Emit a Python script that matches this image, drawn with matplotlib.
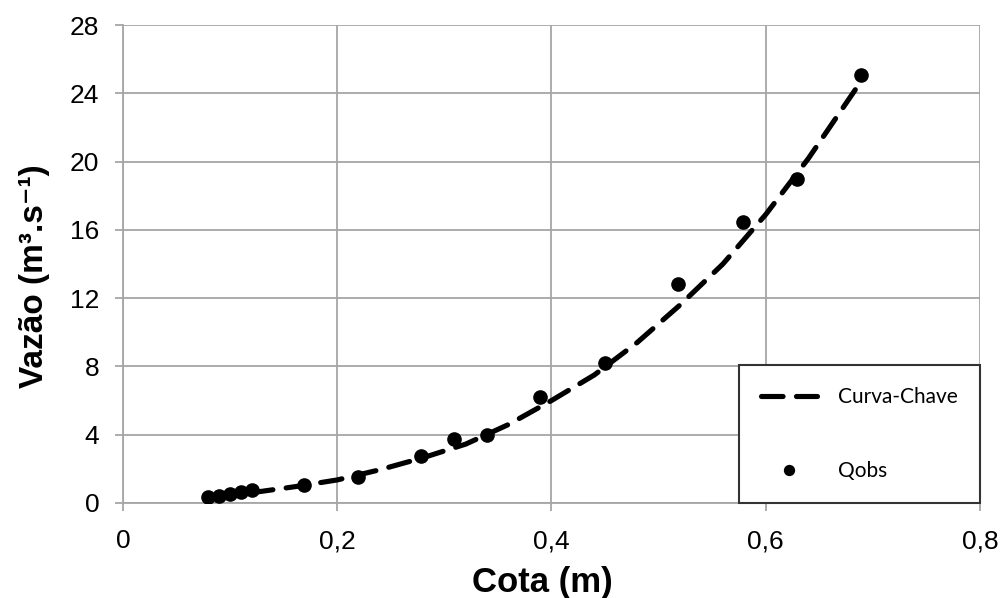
import matplotlib
matplotlib.use("Agg")
import matplotlib.pyplot as plt

# Observed points (Qobs)
h_obs = [0.079, 0.090, 0.100, 0.110, 0.120, 0.169, 0.219, 0.278, 0.309, 0.340,
         0.389, 0.450, 0.518, 0.579, 0.629, 0.689]
q_obs = [0.35, 0.40, 0.50, 0.65, 0.75, 1.05, 1.52, 2.75, 3.75, 3.98,
         6.20, 8.20, 12.83, 16.46, 18.98, 25.07]

# Rating curve (Curva-Chave)
h_curve = [0.12, 0.16, 0.20, 0.24, 0.28, 0.32, 0.36, 0.40, 0.44, 0.48,
           0.52, 0.56, 0.60, 0.64, 0.69]
q_curve = [0.60, 0.95, 1.35, 1.95, 2.65, 3.45, 4.60, 6.00, 7.50, 9.40,
           11.60, 14.00, 16.90, 20.20, 24.80]

x_ticks = [0, 0.2, 0.4, 0.6, 0.8]
x_labels = ["0", "0,2", "0,4", "0,6", "0,8"]
y_ticks = [0, 4, 8, 12, 16, 20, 24, 28]

plt.rcParams['font.family'] = ['Liberation Sans', 'DejaVu Sans']

fig = plt.figure(figsize=(10.03, 5.98), dpi=100)
ax = fig.add_axes([0.1226, 0.1589, 0.977 - 0.1226, 0.958 - 0.1589])

grid_c = '#a6a6a6'
line, = ax.plot(h_curve, q_curve, color='black', lw=3.7, ls=(0, (4.2, 2.6)),
                dash_capstyle='round', label='Curva-Chave', zorder=3)
pts, = ax.plot(h_obs, q_obs, 'o', color='black', ms=9.5, label='Qobs', zorder=4,
               ls='none')

ax.set_xlim(0, 0.8)
ax.set_ylim(0, 28)
ax.set_xticks(x_ticks)
ax.set_xticklabels(x_labels)
ax.set_yticks(y_ticks)
ax.grid(True, color=grid_c, lw=1.3)
ax.set_axisbelow(True)
for s in ['top', 'right']:
    ax.spines[s].set_visible(False)
for s in ['left', 'bottom']:
    ax.spines[s].set_color(grid_c)
    ax.spines[s].set_linewidth(1.3)
ax.tick_params(axis='both', colors=grid_c, length=6, width=1.3, labelsize=19,
               labelcolor='black')
ax.tick_params(axis='x', pad=13)
ax.tick_params(axis='y', pad=11)

ax.set_xlabel('Cota (m)', fontsize=25, fontweight='bold')
ax.xaxis.set_label_coords(0.489, -0.132)
ax.set_ylabel('Vazão (m³.s⁻¹)', fontsize=24, fontweight='bold')
ax.yaxis.set_label_coords(-0.085, 0.475)

leg = ax.legend(handles=[line, pts], loc='lower right', bbox_to_anchor=(1.0, 0.0),
                borderaxespad=0, fancybox=False, framealpha=1, edgecolor='#333333',
                prop={'family': 'Lato', 'size': 15}, handlelength=2.7,
                handletextpad=1.0, labelspacing=2.6, borderpad=1.05, markerscale=0.75)
leg.get_frame().set_linewidth(1.5)
leg.set_zorder(5)

fig.savefig('out.png', dpi=100)
